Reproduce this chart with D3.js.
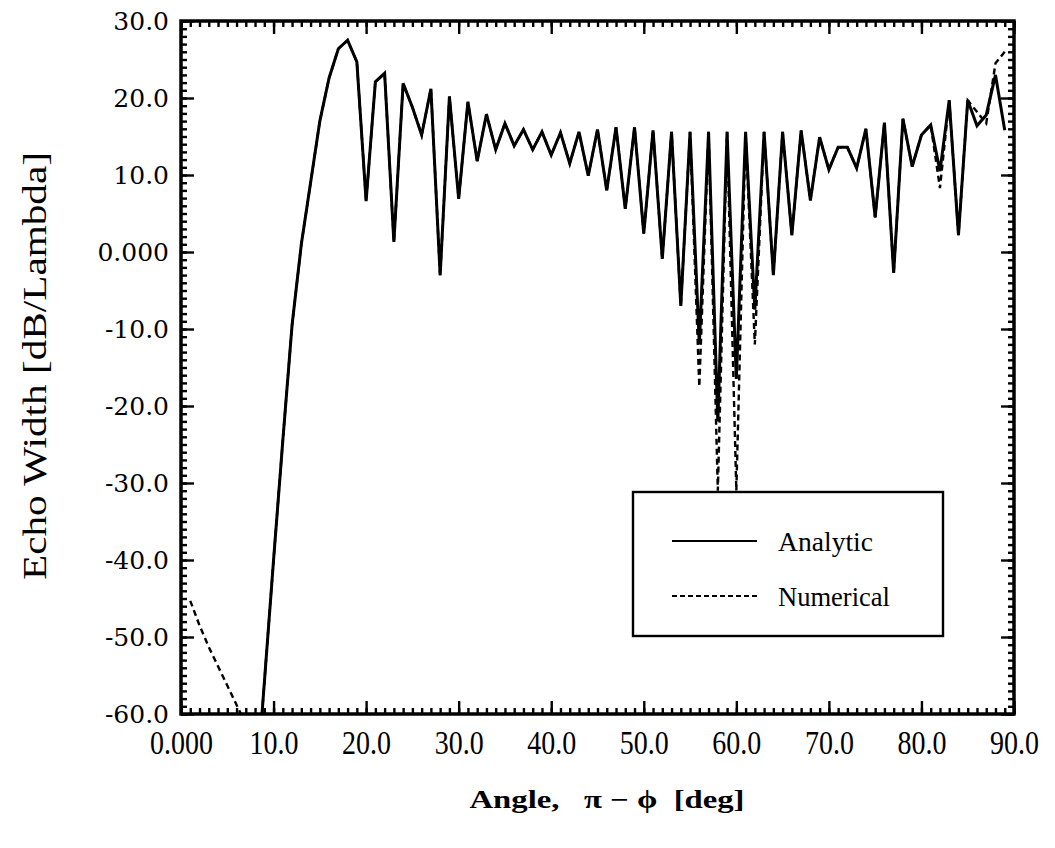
<!DOCTYPE html>
<html>
<head>
<meta charset="utf-8">
<script src="https://cdn.jsdelivr.net/npm/d3@7"></script>
<style>
  body { margin: 0; background: #fff; }
  svg { display: block; }
  .times { font-family: "Liberation Serif", "DejaVu Serif Condensed", "DejaVu Serif", serif; font-stretch: condensed; }
  .wide { font-family: "DejaVu Serif", serif; }
</style>
</head>
<body>
<div id="chart"></div>
<script>
// angles in degrees, one sample per degree
const angles = d3.range(1, 90);

// Analytic echo width (dB/Lambda); null = not plotted
const analytic = [
  null, null, null, null, null, null, null, -72, -56, -40,
  -24.5, -9.5, 1, 9, 17, 22.6, 26.4, 27.5, 24.7, 6.6,
  22.1, 23.2, 1.3, 21.9, 18.8, 15.2, 21.2, -3, 20.2, 6.9,
  19.5, 11.8, 17.9, 13.3, 16.7, 13.8, 15.9, 13.3, 15.6, 12.6,
  15.5, 11.5, 15.6, 9.9, 15.9, 8, 16.2, 5.6, 16.2, 2.4,
  15.8, -0.9, 15.6, -7, 15.6, -12, 15.6, -22, 15.6, -16.5,
  15.6, -7.5, 15.6, -3, 15.6, 2.2, 15.8, 6.7, 14.9, 10.7,
  13.6, 13.6, 10.9, 16, 4.5, 16.8, -2.7, 17.3, 11.1, 15.2,
  16.5, 10.5, 19.7, 2.2, 19.7, 16.4, 17.8, 23.0, 15.8
];

// Numerical echo width (dB/Lambda)
const numerical = [
  -45.3, -48.5, -51.3, -53.8, -56.3, -58.8, -61.3, -72, -56, -40,
  -24.5, -9.5, 1, 9, 17, 22.6, 26.4, 27.5, 24.7, 6.6,
  22.1, 23.2, 1.3, 21.9, 18.8, 15.2, 21.2, -3, 20.2, 6.9,
  19.5, 11.8, 17.9, 13.3, 16.7, 13.8, 15.9, 13.3, 15.6, 12.6,
  15.5, 11.5, 15.6, 9.9, 15.9, 8, 16.2, 5.6, 16.2, 2.4,
  15.8, -0.9, 15.6, -7, 15.6, -17.5, 15.6, -31, 15.6, -31,
  15.6, -12, 15.6, -3, 15.6, 2.2, 15.8, 6.7, 14.9, 10.7,
  13.6, 13.6, 10.9, 16, 4.5, 16.8, -2.7, 17.3, 11.1, 15.2,
  16.5, 8.3, 19.7, 2.2, 19.7, 18.2, 16.7, 24.5, 26
];

const xTicks = [0, 10, 20, 30, 40, 50, 60, 70, 80, 90];
const xTickLabels = ["0.000", "10.0", "20.0", "30.0", "40.0", "50.0", "60.0", "70.0", "80.0", "90.0"];
const yTicks = [30, 20, 10, 0, -10, -20, -30, -40, -50, -60];
const yTickLabels = ["30.0", "20.0", "10.0", "0.000", "-10.0", "-20.0", "-30.0", "-40.0", "-50.0", "-60.0"];
const seriesNames = ["Analytic", "Numerical"];

const width = 1055, height = 848;
const pLeft = 181, pRight = 1014, pTop = 21, pBottom = 714;

const svg = d3.select("#chart").append("svg")
  .attr("width", width)
  .attr("height", height);

const x = d3.scaleLinear().domain([0, 90]).range([pLeft, pRight]);
const y = d3.scaleLinear().domain([-60, 30]).range([pBottom, pTop]);

svg.append("clipPath").attr("id", "plot")
  .append("rect")
  .attr("x", pLeft).attr("y", pTop)
  .attr("width", pRight - pLeft).attr("height", pBottom - pTop);

// minor ticks every 1 unit, all four sides
const minorX = d3.range(0, 91, 1);
const minorY = d3.range(-60, 31, 1);

function styleAxis(g) {
  g.select(".domain").remove();
  g.selectAll(".tick line").attr("stroke", "#000").attr("stroke-width", 2.4);
}

svg.append("g").attr("transform", `translate(0,${pBottom})`)
  .call(d3.axisBottom(x).tickValues(minorX).tickSize(-6).tickFormat(""))
  .call(styleAxis);
svg.append("g").attr("transform", `translate(0,${pTop})`)
  .call(d3.axisTop(x).tickValues(minorX).tickSize(-6).tickFormat(""))
  .call(styleAxis);
svg.append("g").attr("transform", `translate(${pLeft},0)`)
  .call(d3.axisLeft(y).tickValues(minorY).tickSize(-6).tickFormat(""))
  .call(styleAxis);
svg.append("g").attr("transform", `translate(${pRight},0)`)
  .call(d3.axisRight(y).tickValues(minorY).tickSize(-6).tickFormat(""))
  .call(styleAxis);

// major ticks with labels
const xAxis = svg.append("g").attr("transform", `translate(0,${pBottom})`)
  .call(d3.axisBottom(x).tickValues(xTicks).tickSize(-13).tickPadding(0)
    .tickFormat((d, i) => xTickLabels[i]))
  .call(styleAxis);
xAxis.selectAll("text")
  .attr("class", "times")
  .attr("font-size", 28)
  .attr("fill", "#000")
  .attr("dy", null)
  .attr("transform", "scale(1,1.2)")
  .attr("y", 40 / 1.2);

svg.append("g").attr("transform", `translate(0,${pTop})`)
  .call(d3.axisTop(x).tickValues(xTicks).tickSize(-13).tickFormat(""))
  .call(styleAxis);

const yAxis = svg.append("g").attr("transform", `translate(${pLeft},0)`)
  .call(d3.axisLeft(y).tickValues(yTicks).tickSize(-13).tickPadding(12)
    .tickFormat((d, i) => yTickLabels[i]))
  .call(styleAxis);
yAxis.selectAll("text")
  .attr("class", "wide")
  .attr("font-size", 25)
  .attr("fill", "#000");

svg.append("g").attr("transform", `translate(${pRight},0)`)
  .call(d3.axisRight(y).tickValues(yTicks).tickSize(-13).tickFormat(""))
  .call(styleAxis);

// frame
svg.append("rect")
  .attr("x", pLeft).attr("y", pTop)
  .attr("width", pRight - pLeft).attr("height", pBottom - pTop)
  .attr("fill", "none").attr("stroke", "#000").attr("stroke-width", 3.5);

// curves
const line = d3.line()
  .defined(d => d[1] !== null)
  .x(d => x(d[0]))
  .y(d => y(d[1]));

const plot = svg.append("g").attr("clip-path", "url(#plot)");

plot.append("path")
  .datum(angles.map((a, i) => [a, numerical[i]]))
  .attr("d", line)
  .attr("fill", "none").attr("stroke", "#000")
  .attr("stroke-width", 2.4).attr("stroke-dasharray", "6,4");

plot.append("path")
  .datum(angles.map((a, i) => [a, analytic[i]]))
  .attr("d", line)
  .attr("fill", "none").attr("stroke", "#000")
  .attr("stroke-width", 3).attr("stroke-linejoin", "miter");

// legend
const lg = svg.append("g");
lg.append("rect")
  .attr("x", 633).attr("y", 492).attr("width", 310).attr("height", 144)
  .attr("fill", "#fff").attr("stroke", "#000").attr("stroke-width", 2.4);
seriesNames.forEach((name, i) => {
  const ly = 541 + i * 55;
  lg.append("line")
    .attr("x1", 672).attr("x2", 757).attr("y1", ly).attr("y2", ly)
    .attr("stroke", "#000").attr("stroke-width", 2)
    .attr("stroke-dasharray", i === 1 ? "5,3" : null);
  lg.append("text")
    .attr("class", "times")
    .attr("x", 778).attr("y", ly + 10)
    .attr("font-size", 28)
    .attr("textLength", i === 0 ? 95 : 112)
    .attr("lengthAdjust", "spacingAndGlyphs")
    .text(name);
});

// axis titles
svg.append("text")
  .attr("class", "times")
  .attr("transform", "translate(46,366) rotate(-90)")
  .attr("text-anchor", "middle")
  .attr("font-size", 34)
  .attr("textLength", 428)
  .attr("lengthAdjust", "spacingAndGlyphs")
  .text("Echo Width [dB/Lambda]");

svg.append("text")
  .attr("class", "times")
  .attr("x", 607).attr("y", 808)
  .attr("text-anchor", "middle")
  .attr("font-weight", "bold")
  .attr("font-size", 25)
  .attr("textLength", 275)
  .attr("lengthAdjust", "spacingAndGlyphs")
  .attr("xml:space", "preserve")
  .text("Angle,   π − ϕ  [deg]");
</script>
</body>
</html>
